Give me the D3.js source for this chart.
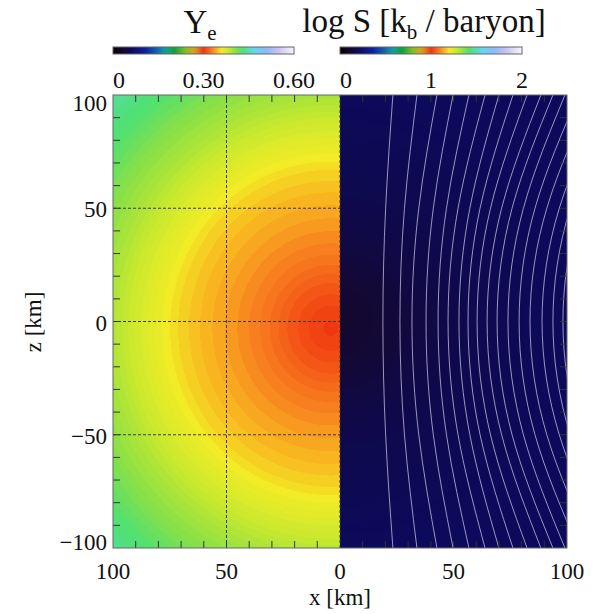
<!DOCTYPE html>
<html>
<head>
<meta charset="utf-8">
<script src="https://cdn.jsdelivr.net/npm/d3@7"></script>
<style>
  body { margin: 0; background: #fff; }
  text { font-family: "Liberation Serif", "Times New Roman", serif; fill: #111; }
</style>
</head>
<body>
<div id="chart"></div>
<script>
// colour table (fraction of the bar -> colour)
const cmapPos = [0, 0.05, 0.10, 0.18, 0.24, 0.29, 0.34, 0.40, 0.45, 0.50, 0.55, 0.575, 0.60, 0.64, 0.68, 0.71, 0.78, 0.85, 0.91, 1.0];
const cmapCol = ["#000000", "#150828", "#0c0a5a", "#1020a0", "#1060b0", "#10a0a0", "#10a040", "#80c020",
                 "#e0a020", "#f03810", "#f88420", "#f8b820", "#f2ec26", "#c4e830", "#88e048", "#50e070",
                 "#60d8f0", "#90b8f8", "#c8c0f0", "#f8f8f8"];

// colour bars
const yeTicks = [0, 0.30, 0.60];
const yeTickLabels = ["0", "0.30", "0.60"];
const sTicks = [0, 1, 2];
const sTickLabels = ["0", "1", "2"];

// radial profiles of the two fields (distance from the core, km)
const profR    = [0, 10, 20, 30, 40, 50, 60, 70, 80, 90, 100, 110, 120, 130, 140, 150];
const yeProf   = [0.300, 0.306, 0.314, 0.324, 0.332, 0.339, 0.346, 0.354, 0.365, 0.378, 0.392, 0.404, 0.416, 0.427, 0.436, 0.444];
const logSProf = [0.11, 0.12, 0.13, 0.145, 0.16, 0.17, 0.18, 0.185, 0.19, 0.195, 0.20, 0.20, 0.20, 0.20, 0.20, 0.20];
const yeCore = [4, -3];   // x, z of the Ye minimum
const sCore = [0, 0];

// white contour lines on the right half: x (km) at each z
const contourZ    = [-100, -50, 0, 50, 100];
const contourMid  = [18.9, 26.4, 31.7, 37.9, 43.2, 47.6, 52.4, 56.4, 60.4, 64.8, 69.2, 74.0, 78.9, 83.7, 89.0, 93.8, 98.2];
const contourHalf = [20.1, 28.4, 34.7, 41.1, 46.9, 52.0, 57.2, 61.7, 66.3, 71.2, 75.8, 80.8, 85.9, 91.1, 96.6, 101.4, 106.0];
const contourEdge = [23.3, 33.9, 42.7, 49.8, 56.8, 63.9, 70.0, 76.2, 82.4, 88.5, 93.8, 99.1, 105, 111, 117, 122, 127];

// axes
const zTicks = [100, 50, 0, -50, -100];
const zTickLabels = ["100", "50", "0", "\u221250", "\u2212100"];
const xTicksLeft = [100, 50];
const xTicksRight = [0, 50, 100];
const gridZ = [50, 0, -50];
const gridXLeft = [50, 0];

const W = 600, H = 614;
const svg = d3.select("#chart").append("svg").attr("width", W).attr("height", H);

const xL = d3.scaleLinear().domain([100, 0]).range([113, 340]);
const xR = d3.scaleLinear().domain([0, 100]).range([340, 567]);
const y = d3.scaleLinear().domain([-100, 100]).range([548, 95]);

const cmap = d3.scaleLinear().domain(cmapPos).range(cmapCol).interpolate(d3.interpolateRgb).clamp(true);
const yeOfR = d3.scaleLinear().domain(profR).range(yeProf).clamp(true);
const sOfR = d3.scaleLinear().domain(profR).range(logSProf).clamp(true);

// draw one half as a raster image
function fieldImage(xs, valueAt) {
  const x0 = Math.min(...xs.range()), x1 = Math.max(...xs.range());
  const y0 = y.range()[1], y1 = y.range()[0];
  const w = Math.round(x1 - x0), h = Math.round(y1 - y0);
  const canvas = document.createElement("canvas");
  canvas.width = w; canvas.height = h;
  const ctx = canvas.getContext("2d");
  const img = ctx.createImageData(w, h);
  for (let j = 0; j < h; j++) {
    const z = y.invert(y0 + j + 0.5);
    for (let i = 0; i < w; i++) {
      const x = xs.invert(x0 + i + 0.5);
      const c = d3.rgb(cmap(valueAt(x, z)));
      const k = (j * w + i) * 4;
      img.data[k] = c.r; img.data[k + 1] = c.g; img.data[k + 2] = c.b; img.data[k + 3] = 255;
    }
  }
  ctx.putImageData(img, 0, 0);
  svg.append("image").attr("x", x0).attr("y", y0).attr("width", w).attr("height", h)
    .attr("preserveAspectRatio", "none").attr("href", canvas.toDataURL());
}

fieldImage(xL, (x, z) => {
  const r = Math.hypot((x - yeCore[0]) * 1.04, z - yeCore[1]);
  const ye = Math.round(yeOfR(r) / 0.004) * 0.004;
  return ye / 0.6;
});
fieldImage(xR, (x, z) => {
  const r = Math.hypot(x - sCore[0], z - sCore[1]);
  return sOfR(r) / 2;
});

// contours on the right half
svg.append("clipPath").attr("id", "clipR").append("rect")
  .attr("x", 340).attr("y", 95).attr("width", 227).attr("height", 453);
const contourLine = d3.line().x(d => xR(d[0])).y(d => y(d[1])).curve(d3.curveNatural);
const contours = contourMid.map((m, i) => {
  const xsAt = [contourEdge[i], contourHalf[i], m, contourHalf[i], contourEdge[i]];
  return contourZ.map((z, k) => [xsAt[k], z]);
});
svg.append("g").attr("clip-path", "url(#clipR)")
  .selectAll("path").data(contours).join("path")
  .attr("d", contourLine)
  .attr("fill", "none").attr("stroke", "#d4cce8").attr("stroke-width", 0.9).attr("stroke-opacity", 0.8);

// dashed grid
const grid = svg.append("g").attr("stroke", "#3a3a3a").attr("stroke-width", 1).attr("stroke-dasharray", "3,2");
grid.selectAll("line.h").data(gridZ).join("line").attr("class", "h")
  .attr("x1", xL(100)).attr("x2", xL(0)).attr("y1", d => y(d)).attr("y2", d => y(d));
grid.selectAll("line.v").data(gridXLeft).join("line").attr("class", "v")
  .attr("x1", d => xL(d)).attr("x2", d => xL(d)).attr("y1", y(100)).attr("y2", y(-100));

// minor ticks every 10 km, pointing inwards
const tk = svg.append("g").attr("stroke", "#333").attr("stroke-width", 1);
const tickLen = 7;
const zAll = d3.range(-90, 100, 10);
tk.selectAll("line.l").data(zAll).join("line").attr("class", "l")
  .attr("x1", xL(100)).attr("x2", xL(100) + tickLen).attr("y1", d => y(d)).attr("y2", d => y(d));
tk.selectAll("line.r").data(zAll).join("line").attr("class", "r")
  .attr("x1", xR(100)).attr("x2", xR(100) - tickLen).attr("y1", d => y(d)).attr("y2", d => y(d));
const xPos = d3.range(90, 0, -10).map(v => xL(v)).concat(d3.range(10, 100, 10).map(v => xR(v)));
tk.selectAll("line.t").data(xPos).join("line").attr("class", "t")
  .attr("x1", d => d).attr("x2", d => d).attr("y1", y(100)).attr("y2", y(100) + tickLen);
tk.selectAll("line.b").data(xPos).join("line").attr("class", "b")
  .attr("x1", d => d).attr("x2", d => d).attr("y1", y(-100)).attr("y2", y(-100) - tickLen);

// frame
svg.append("rect").attr("x", 113).attr("y", 95).attr("width", 454).attr("height", 453)
  .attr("fill", "none").attr("stroke", "#666").attr("stroke-width", 1);

// tick labels
svg.append("g").selectAll("text").data(zTicks).join("text")
  .attr("x", 107).attr("y", d => Math.max(103, Math.min(541.5, y(d) + 1)) + 8)
  .attr("text-anchor", "end").attr("font-size", 23)
  .text((d, i) => zTickLabels[i]);
svg.append("g").selectAll("text").data(xTicksLeft).join("text")
  .attr("x", d => xL(d)).attr("y", 579).attr("text-anchor", "middle").attr("font-size", 23).text(d => d);
svg.append("g").selectAll("text").data(xTicksRight).join("text")
  .attr("x", d => xR(d)).attr("y", 579).attr("text-anchor", "middle").attr("font-size", 23).text(d => d);

svg.append("text").attr("x", 340).attr("y", 605).attr("text-anchor", "middle").attr("font-size", 23).text("x [km]");
svg.append("text").attr("transform", "translate(41,322) rotate(-90)")
  .attr("text-anchor", "middle").attr("font-size", 23).text("z [km]");

// colour bars
const defs = svg.append("defs");
const grad = defs.append("linearGradient").attr("id", "cbar");
d3.range(0, 1.0001, 0.02).forEach(t => grad.append("stop").attr("offset", t).attr("stop-color", cmap(t)));

function colourBar(x0, x1, ticks, labels) {
  const s = d3.scaleLinear().domain([ticks[0], ticks[ticks.length - 1]]).range([x0, x1]);
  svg.append("rect").attr("x", x0).attr("y", 47).attr("width", x1 - x0).attr("height", 7)
    .attr("fill", "url(#cbar)").attr("stroke", "#666").attr("stroke-width", 1);
  svg.append("g").selectAll("text").data(ticks).join("text")
    .attr("x", d => s(d)).attr("y", 88)
    .attr("text-anchor", (d, i) => i === 0 ? "start" : "middle")
    .attr("font-size", 24)
    .text((d, i) => labels[i]);
}
colourBar(113, 294, yeTicks, yeTickLabels);
colourBar(340, 522, sTicks, sTickLabels);

// titles
const t1 = svg.append("text").attr("x", 200).attr("y", 33).attr("text-anchor", "middle").attr("font-size", 33);
t1.append("tspan").text("Y");
t1.append("tspan").attr("font-size", 21).attr("dy", 7).text("e");

const t2 = svg.append("text").attr("x", 424).attr("y", 32).attr("text-anchor", "middle").attr("font-size", 33);
t2.append("tspan").text("log S [k");
t2.append("tspan").attr("font-size", 21).attr("dy", 7).text("b");
t2.append("tspan").attr("dy", -7).text(" / baryon]");
</script>
</body>
</html>
